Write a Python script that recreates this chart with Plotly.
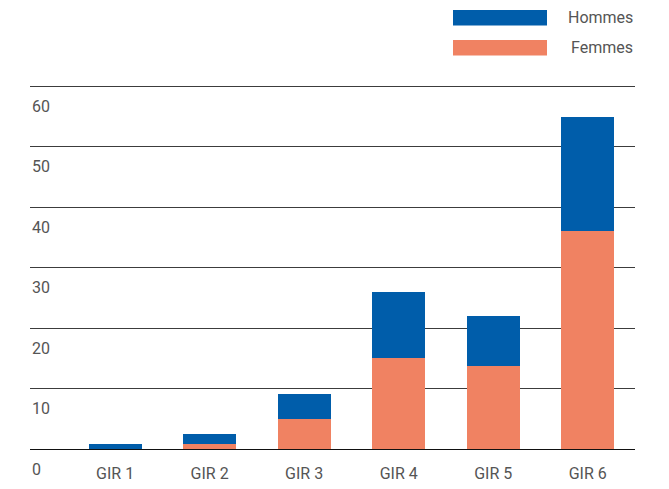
import plotly.graph_objects as go

# Data
categories = ["GIR 1", "GIR 2", "GIR 3", "GIR 4", "GIR 5", "GIR 6"]
femmes = [0.0, 0.9, 5.0, 15.1, 13.8, 36.0]
hommes = [0.8, 1.7, 4.2, 10.9, 8.2, 18.8]
series_names = ["Hommes", "Femmes"]
y_ticks = [0, 10, 20, 30, 40, 50, 60]

BLUE = "#005DAA"
ORANGE = "#F08262"
TEXT = "#555555"
FONT = "Roboto"

# plot area geometry (pixels); value axis scaled so 0 and 60 land on chosen rows
PLOT_L, PLOT_R, PLOT_T, PLOT_B = 30, 635, 78, 452
ZERO_PIX, TOP_PIX, TOP_VAL = 449.3, 86.0, 60.0
PLOT_W = PLOT_R - PLOT_L
PLOT_H = PLOT_B - PLOT_T
PX_PER_UNIT = (ZERO_PIX - TOP_PIX) / TOP_VAL
Y_MIN = -(PLOT_B - ZERO_PIX) / PX_PER_UNIT
Y_MAX = TOP_VAL + (TOP_PIX - PLOT_T) / PX_PER_UNIT

fig = go.Figure()
fig.add_bar(x=categories, y=femmes, name=series_names[1], marker=dict(color=ORANGE, line=dict(width=0)))
fig.add_bar(x=categories, y=hommes, name=series_names[0], marker=dict(color=BLUE, line=dict(width=0)))

# y-axis labels sit just below their gridlines, at the left edge
annotations = []
for v in y_ticks:
    annotations.append(dict(
        x=0, xref="paper", y=v, yref="y", text=str(v), showarrow=False,
        xanchor="left", yanchor="middle", yshift=-20,
        font=dict(family=FONT, size=16, color=TEXT),
    ))

# Custom legend: wide swatches with right-aligned labels
def py(pix):
    return (PLOT_B - pix) / PLOT_H

def px(pix):
    return (pix - PLOT_L) / PLOT_W

shapes = []
legend_rows = [(series_names[0], BLUE, 10, 25.5), (series_names[1], ORANGE, 40, 55.5)]
for name, color, y0, y1 in legend_rows:
    shapes.append(dict(type="rect", xref="paper", yref="paper",
                       x0=px(453), x1=px(547), y0=py(y1), y1=py(y0),
                       fillcolor=color, line=dict(width=0), layer="above"))
    annotations.append(dict(
        x=1, xref="paper", y=py((y0 + y1) / 2), yref="paper",
        text=name, showarrow=False, xanchor="right", yanchor="middle",
        font=dict(family=FONT, size=16, color=TEXT),
    ))

fig.update_layout(
    barmode="stack",
    bargap=0.44,
    width=669, height=489,
    margin=dict(l=PLOT_L, r=669 - PLOT_R, t=PLOT_T, b=489 - PLOT_B, autoexpand=False),
    paper_bgcolor="white", plot_bgcolor="white",
    showlegend=False,
    font=dict(family=FONT, size=16, color=TEXT),
    annotations=annotations,
    shapes=shapes,
    xaxis=dict(
        range=[-0.9, 5.5], showgrid=False, zeroline=False, showline=False,
        ticks="outside", ticklen=7, tickcolor="rgba(0,0,0,0)",
        tickfont=dict(family=FONT, size=16, color=TEXT), automargin=False,
    ),
    yaxis=dict(
        range=[Y_MIN, Y_MAX], tickvals=y_ticks, showticklabels=False,
        showgrid=True, gridcolor="#3c3c3c", gridwidth=1,
        zeroline=True, zerolinecolor="#111111", zerolinewidth=1,
        showline=False, automargin=False,
    ),
)

fig.write_html("out.html")
